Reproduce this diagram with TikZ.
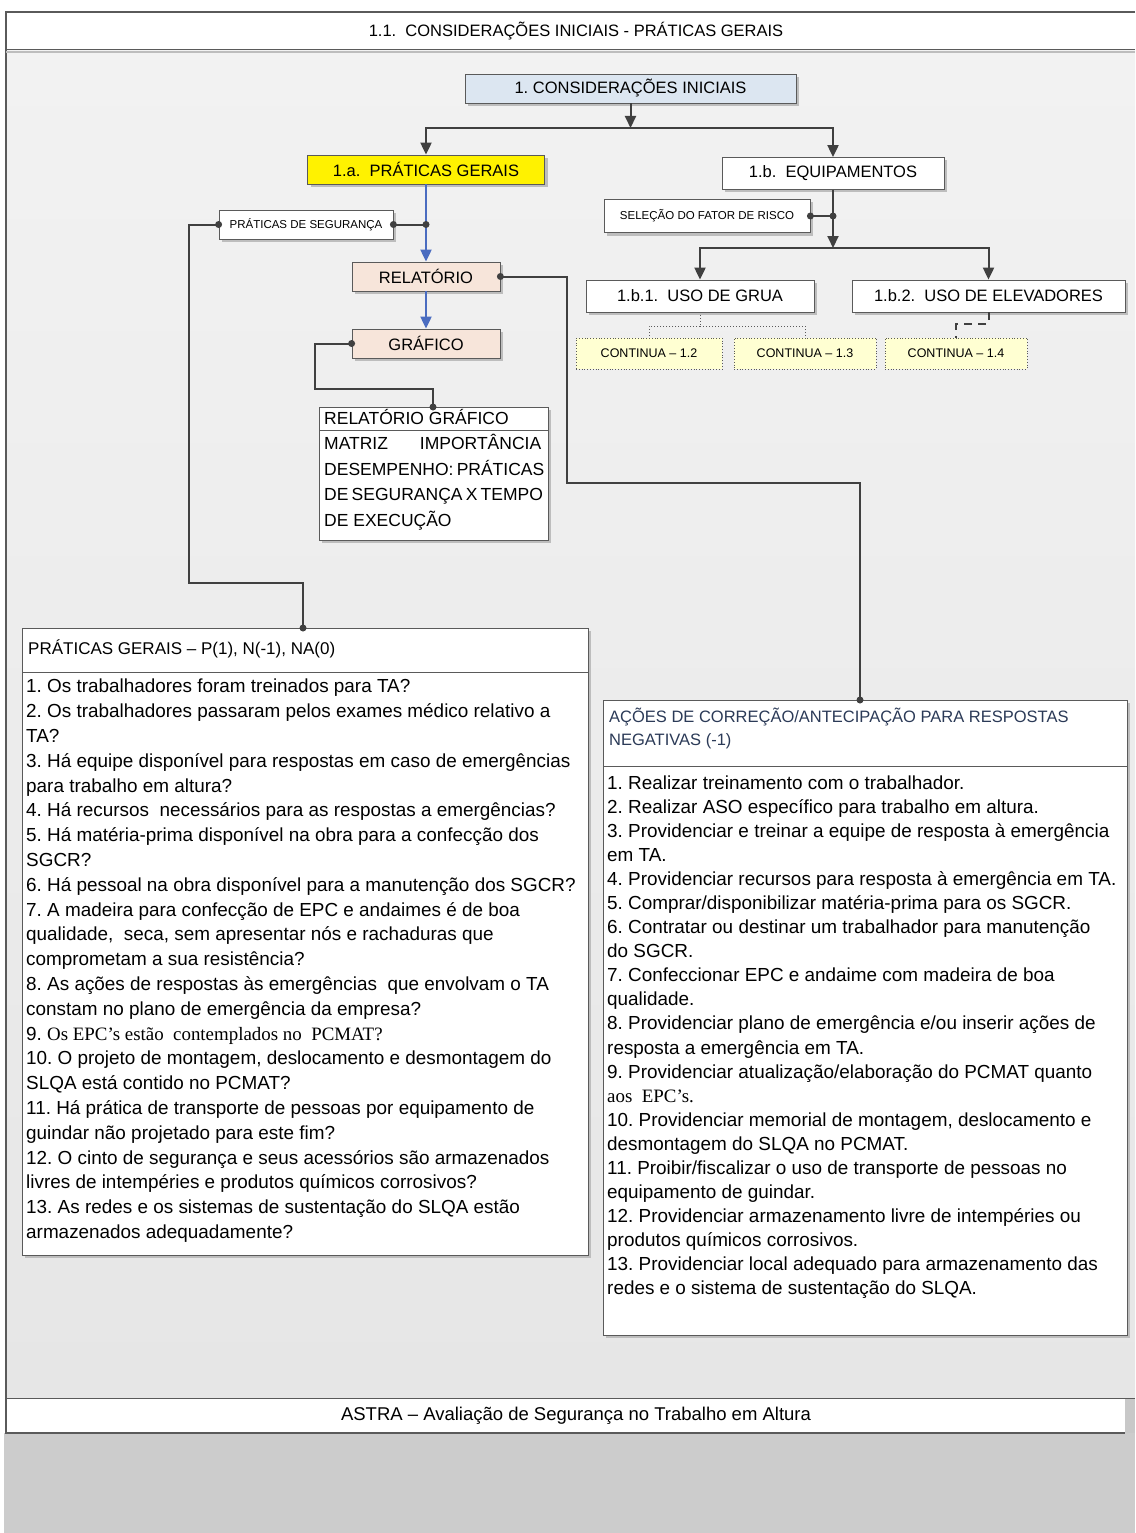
\documentclass[tikz,border=0pt]{standalone}
\usepackage{fontspec}
\setmainfont{Liberation Sans}
\newfontfamily\tnr{Liberation Serif}
\usetikzlibrary{arrows.meta,shadows,calc}
\definecolor{conncol}{HTML}{404040}
\definecolor{boxcol}{HTML}{5A5A5A}
\definecolor{shadowcol}{HTML}{BDBDBD}
\definecolor{bluecol}{HTML}{4A6CC0}
\definecolor{cifill}{HTML}{DCE6F1}
\definecolor{relfill}{HTML}{F7E5DA}
\definecolor{contfill}{HTML}{FFFFD2}
\definecolor{bgtop}{HTML}{F2F2F2}
\definecolor{bgbot}{HTML}{E6E6E6}
\definecolor{titlecol}{HTML}{2B3A57}
\definecolor{stripcol}{HTML}{C8C8C8}
\definecolor{basecol}{HTML}{CCCCCC}
\frenchspacing
\begin{document}
\begin{tikzpicture}[x=1pt,y=-1pt,
  box/.style={draw=boxcol, line width=0.8pt, inner sep=0pt,
    drop shadow={shadow xshift=3pt,shadow yshift=-3pt,fill=shadowcol,opacity=1}},
  conn/.style={draw=conncol, line width=2pt},
  tipa/.style={-{Triangle[length=12pt,width=11pt]}},
  bconn/.style={draw=bluecol, line width=2pt, -{Triangle[length=12pt,width=11pt]}},
  contbox/.style={draw=boxcol, dotted, line width=0.8pt, fill=contfill, inner sep=0pt,
    minimum height=31pt, font=\fontsize{12.5}{14}\selectfont},
  big/.style={font=\fontsize{16.5}{19}\selectfont},
  small/.style={font=\fontsize{11.5}{13}\selectfont},
  body/.style={inner sep=0pt, align=left, anchor=base west}
]
\useasboundingbox (0,0) rectangle (1135,1533);
% page frame
\fill[white] (0,0) rectangle (1135,1533);
\shade[top color=bgtop, bottom color=bgbot] (6,50) rectangle (1135,1398);
\fill[white] (6,12) rectangle (1135,50);
\fill[white] (6,1398) rectangle (1125,1433);
\fill[stripcol] (1125,1398) rectangle (1135,1433);
\fill[basecol] (4,1433) rectangle (1135,1533);
\draw[boxcol, line width=1.5pt] (1135,12) -- (6,12) -- (6,1433) -- (1125,1433);
\draw[shadowcol, line width=2pt] (6,52) -- (1135,52);
\draw[boxcol, line width=1pt] (6,50) -- (1135,50);
\draw[boxcol, line width=1pt] (6,1398) -- (1135,1398);
\node[font=\fontsize{16.5}{19}\selectfont] (hdr) at (576,31) {1.1.\ \ CONSIDERAÇÕES INICIAIS - PRÁTICAS GERAIS};
\node[font=\fontsize{18.5}{21}\selectfont] (ftr) at (576,1416) {ASTRA – Avaliação de Segurança no Trabalho em Altura};

% top nodes
\node[box, big, fill=cifill, minimum width=331pt, minimum height=29pt] (ci) at (630.5,88.5) {1. CONSIDERAÇÕES INICIAIS};
\node[box, big, fill=yellow, minimum width=237pt, minimum height=29pt] (pg) at (426,169.5) {1.a.\ \ PRÁTICAS GERAIS};
\node[box, big, fill=white, minimum width=222pt, minimum height=32pt] (eq) at (833,173.5) {1.b.\ \ EQUIPAMENTOS};
\node[box, small, fill=white, minimum width=174pt, minimum height=29pt] (ps) at (306,224.5) {PRÁTICAS DE SEGURANÇA};
\node[box, big, fill=relfill, minimum width=148pt, minimum height=29pt] (rel) at (426,276.5) {RELATÓRIO};
\node[box, big, fill=relfill, minimum width=148pt, minimum height=29pt] (gra) at (426,343.5) {GRÁFICO};
\node[box, small, fill=white, minimum width=206pt, minimum height=33pt] (sel) at (707,216) {SELEÇÃO DO FATOR DE RISCO};
\node[box, big, fill=white, minimum width=228pt, minimum height=32pt] (g1) at (700,296) {1.b.1.\ \ USO DE GRUA};
\node[box, big, fill=white, minimum width=273pt, minimum height=32pt] (g2) at (988.5,296) {1.b.2.\ \ USO DE ELEVADORES};
\node[contbox, minimum width=146pt] (c12) at (649,353.5) {CONTINUA – 1.2};
\node[contbox, minimum width=142pt] (c13) at (805,353.5) {CONTINUA – 1.3};
\node[contbox, minimum width=142pt] (c14) at (956,353.5) {CONTINUA – 1.4};

% relatório gráfico box
\node[box, fill=white, anchor=north west, minimum width=229pt, minimum height=23pt] (rgt) at (319,407) {};
\node[box, fill=white, anchor=north west, minimum width=229pt, minimum height=110pt] (rgb) at (319,430) {};
\node[body, font=\fontsize{17.5}{20}\selectfont] (rgtt) at (324,424) {RELATÓRIO GRÁFICO};
\node[body, font=\fontsize{17.5}{25.7}\selectfont] (rgtx) at (324,526.5)
 {\makebox[217pt][s]{MATRIZ IMPORTÂNCIA}\\
  \makebox[217pt][s]{DESEMPENHO: PRÁTICAS}\\
  \makebox[217pt][s]{DE SEGURANÇA X TEMPO}\\
  DE EXECUÇÃO};

% práticas gerais box
\node[box, fill=white, anchor=north west, minimum width=566pt, minimum height=44pt] (pgt) at (22,628) {};
\node[box, fill=white, anchor=north west, minimum width=566pt, minimum height=583pt] (pgb) at (22,672) {};
\node[body, font=\fontsize{17}{20}\selectfont] (pgtt) at (28,654) {PRÁTICAS GERAIS – P(1), N(-1), NA(0)};
\node[body, font=\fontsize{18.9}{24.8}\selectfont] (pgtx) at (26,1238.5)
 {1. Os trabalhadores foram treinados para TA?\\
  2. Os trabalhadores passaram pelos exames médico relativo a\\
  TA?\\
  3. Há equipe disponível para respostas em caso de emergências\\
  para trabalho em altura?\\
  4. Há recursos\ \ necessários para as respostas a emergências?\\
  5. Há matéria-prima disponível na obra para a confecção dos\\
  SGCR?\\
  6. Há pessoal na obra disponível para a manutenção dos SGCR?\\
  7. A madeira para confecção de EPC e andaimes é de boa\\
  qualidade,\ \ seca, sem apresentar nós e rachaduras que\\
  comprometam a sua resistência?\\
  8. As ações de respostas às emergências\ \ que envolvam o TA\\
  constam no plano de emergência da empresa?\\
  9. {\tnr Os EPC’s estão\ \ contemplados no\ \ PCMAT?}\\
  10. O projeto de montagem, deslocamento e desmontagem do\\
  SLQA está contido no PCMAT?\\
  11. Há prática de transporte de pessoas por equipamento de\\
  guindar não projetado para este fim?\\
  12. O cinto de segurança e seus acessórios são armazenados\\
  livres de intempéries e produtos químicos corrosivos?\\
  13. As redes e os sistemas de sustentação do SLQA estão\\
  armazenados adequadamente?};

% ações box
\node[box, fill=white, anchor=north west, minimum width=524pt, minimum height=66pt] (act) at (603,700) {};
\node[box, fill=white, anchor=north west, minimum width=524pt, minimum height=569pt] (acb) at (603,766) {};
\node[body, font=\fontsize{16.5}{23}\selectfont, text=titlecol] (actt) at (609,745)
 {AÇÕES DE CORREÇÃO/ANTECIPAÇÃO PARA RESPOSTAS\\ NEGATIVAS (-1)};
\node[body, font=\fontsize{18.9}{24.05}\selectfont] (actx) at (607,1294.5)
 {1. Realizar treinamento com o trabalhador.\\
  2. Realizar ASO específico para trabalho em altura.\\
  3. Providenciar e treinar a equipe de resposta à emergência\\
  em TA.\\
  4. Providenciar recursos para resposta à emergência em TA.\\
  5. Comprar/disponibilizar matéria-prima para os SGCR.\\
  6. Contratar ou destinar um trabalhador para manutenção\\
  do SGCR.\\
  7. Confeccionar EPC e andaime com madeira de boa\\
  qualidade.\\
  8. Providenciar plano de emergência e/ou inserir ações de\\
  resposta a emergência em TA.\\
  9. Providenciar atualização/elaboração do PCMAT quanto\\
  {\tnr aos\ \ EPC’s.}\\
  10. Providenciar memorial de montagem, deslocamento e\\
  desmontagem do SLQA no PCMAT.\\
  11. Proibir/fiscalizar o uso de transporte de pessoas no\\
  equipamento de guindar.\\
  12. Providenciar armazenamento livre de intempéries ou\\
  produtos químicos corrosivos.\\
  13. Providenciar local adequado para armazenamento das\\
  redes e o sistema de sustentação do SLQA.};

% coordinates for connectors
\coordinate (j1) at (630.5,128);
\coordinate (j2) at (833,248);
\coordinate (jps) at (426,224.5);
\coordinate (jsel) at (833,216);
\coordinate (k1) at (189,583);
\coordinate (pgin) at (303,628);
\coordinate (k2) at (567,483);
\coordinate (acin) at (860,700);
\coordinate (k3) at (315,389);
\coordinate (rgin) at (433,407);
\coordinate (j3) at (700,326);
\coordinate (j4) at (988.5,324);

% connectors
\draw[conn, tipa] (ci.south) -- (j1);
\draw[conn, tipa] (j1) -| (pg.north);
\draw[conn, tipa] (j1) -| (eq.north);
\draw[bconn] (pg.south) -- (rel.north);
\draw[bconn] (rel.south) -- (gra.north);
\draw[conn] (ps.east) -- (jps);
\draw[conn] (ps.west) -| (k1) -| (pgin);
\draw[conn] (rel.east) -| (k2) -| (acin);
\draw[conn] (gra.west) -| (k3) -| (rgin);
\draw[conn, tipa] (eq.south) -- (j2);
\draw[conn] (sel.east) -- (jsel);
\draw[conn, tipa] (j2) -| (g1.north);
\draw[conn, tipa] (j2) -| (g2.north);
\draw[boxcol, line width=1pt, dotted] (g1.south) -- (j3);
\draw[boxcol, line width=1pt, dotted] (j3) -| (c12.north);
\draw[boxcol, line width=1pt, dotted] (j3) -| (c13.north);
\draw[conncol, line width=2pt, dash pattern=on 8pt off 6pt] (g2.south) -- (j4) -| (c14.north);

% junction dots
\foreach \p in {ps.east, jps, ps.west, pgin, rel.east, acin, gra.west, rgin, sel.east, jsel}
  \fill[conncol] (\p) circle (3.5pt);
\end{tikzpicture}
\end{document}
